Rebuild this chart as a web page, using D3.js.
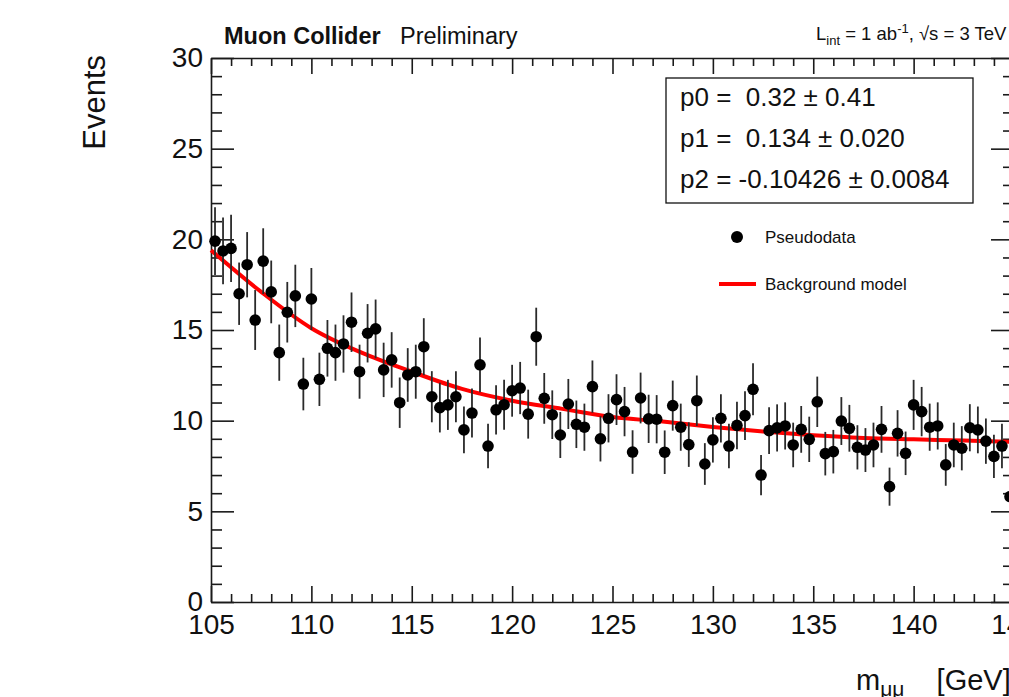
<!DOCTYPE html>
<html><head><meta charset="utf-8">
<script src="https://cdn.jsdelivr.net/npm/d3@7"></script>
<style>
html,body{margin:0;padding:0;background:#fff;overflow:hidden;}
svg{display:block;font-family:"Liberation Sans",Arial,Helvetica,sans-serif;}
text{white-space:pre;}
</style></head><body>
<svg id="c" width="1009" height="697"></svg>
<script>
// ---- data ----
const binLow = 105;
const binWidth = 0.4;
const values = [19.9,19.36,19.5,17.0,18.6,15.55,18.8,17.1,13.75,15.98,
16.88,12.02,16.71,12.28,13.99,13.75,14.23,15.43,12.7,14.82,
15.06,12.8,13.35,10.99,12.52,12.7,14.08,11.32,10.72,10.87,
11.32,9.49,10.42,13.08,8.6,10.6,10.88,11.65,11.8,10.36,
14.63,11.23,10.33,9.21,10.92,9.8,9.64,11.88,9.0,10.13,
11.16,10.5,8.27,11.25,10.1,10.08,8.26,10.83,9.64,8.68,
11.1,7.61,8.94,10.13,8.6,9.74,10.28,11.73,7.0,9.45,
9.6,9.71,8.66,9.52,8.97,11.04,8.18,8.29,9.98,9.58,
8.53,8.38,8.66,9.52,6.36,9.3,8.2,10.87,10.5,9.64,
9.71,7.56,8.66,8.48,9.61,9.49,8.87,8.03,8.6,5.81];
const errors = [1.87,1.84,1.85,1.72,1.80,1.65,1.81,1.73,1.55,1.67,
1.72,1.45,1.71,1.47,1.56,1.55,1.58,1.64,1.49,1.61,
1.62,1.50,1.53,1.39,1.48,1.49,1.57,1.41,1.37,1.38,
1.41,1.29,1.35,1.51,1.23,1.36,1.38,1.43,1.44,1.35,
1.60,1.40,1.34,1.27,1.38,1.31,1.30,1.44,1.25,1.33,
1.40,1.36,1.20,1.40,1.33,1.33,1.20,1.38,1.30,1.23,
1.39,1.15,1.25,1.33,1.23,1.31,1.34,1.43,1.11,1.29,
1.30,1.30,1.23,1.29,1.25,1.39,1.20,1.20,1.32,1.29,
1.22,1.21,1.23,1.29,1.05,1.28,1.20,1.38,1.36,1.30,
1.30,1.15,1.23,1.22,1.30,1.29,1.25,1.19,1.23,1.01];
const fitX = [105,107.5,110,112.5,115,117.5,120,122.5,125,127.5,130,132.5,135,137.5,140,142.5,145];
const fitY = [19.4,17.1,15.1,13.75,12.7,11.75,11.1,10.65,10.2,9.95,9.65,9.4,9.2,9.05,8.97,8.9,8.83];
const xMajor = [105,110,115,120,125,130,135,140,145];
const xLabels = ["105","110","115","120","125","130","135","140","145"];
const yMajor = [0,5,10,15,20,25,30];
const yLabels = ["0","5","10","15","20","25","30"];
const statLines = ["p0 =  0.32 \u00b1 0.41","p1 =  0.134 \u00b1 0.020","p2 = -0.10426 \u00b1 0.0084"];
const legendLabels = ["Pseudodata","Background model"];

// ---- layout ----
const L = 211, R = 1014, T = 58, B = 602;
const svg = d3.select("#c");
svg.append("rect").attr("width",1009).attr("height",697).attr("fill","#fff");
const x = d3.scaleLinear().domain([105,145]).range([L,R]);
const y = d3.scaleLinear().domain([0,30]).range([B,T]);

const xMinor = d3.range(105,146,1).filter(v=>v%5!==0);
const yMinor = d3.range(0,31,1).filter(v=>v%5!==0);

function styleAxis(g){
  g.selectAll("path,line").attr("stroke","#1a1a1a").attr("stroke-width",1.6);
  g.selectAll("text").attr("fill","#111").style("font-family","'Liberation Sans',Arial,sans-serif");
}
// bottom
const gb = svg.append("g").attr("transform",`translate(0,${B})`)
 .call(d3.axisBottom(x).tickValues(xMajor).tickFormat((d,i)=>xLabels[i]).tickSize(-16).tickSizeOuter(0).tickPadding(12));
gb.selectAll("text").attr("font-size",28);
styleAxis(gb);
const gbm = svg.append("g").attr("transform",`translate(0,${B})`)
 .call(d3.axisBottom(x).tickValues(xMinor).tickFormat("").tickSize(-8).tickSizeOuter(0));
styleAxis(gbm); gbm.select(".domain").remove();
// top
const gt = svg.append("g").attr("transform",`translate(0,${T})`)
 .call(d3.axisTop(x).tickValues(xMajor).tickFormat("").tickSize(-16).tickSizeOuter(0));
styleAxis(gt);
const gtm = svg.append("g").attr("transform",`translate(0,${T})`)
 .call(d3.axisTop(x).tickValues(xMinor).tickFormat("").tickSize(-8).tickSizeOuter(0));
styleAxis(gtm); gtm.select(".domain").remove();
// left
const gl = svg.append("g").attr("transform",`translate(${L},0)`)
 .call(d3.axisLeft(y).tickValues(yMajor).tickFormat((d,i)=>yLabels[i]).tickSize(-23).tickSizeOuter(0).tickPadding(8));
gl.selectAll("text").attr("font-size",28);
styleAxis(gl);
const glm = svg.append("g").attr("transform",`translate(${L},0)`)
 .call(d3.axisLeft(y).tickValues(yMinor).tickFormat("").tickSize(-11).tickSizeOuter(0));
styleAxis(glm); glm.select(".domain").remove();
// right
const gr = svg.append("g").attr("transform",`translate(${R},0)`)
 .call(d3.axisRight(y).tickValues(yMajor).tickFormat("").tickSize(-23).tickSizeOuter(0));
styleAxis(gr);
const grm = svg.append("g").attr("transform",`translate(${R},0)`)
 .call(d3.axisRight(y).tickValues(yMinor).tickFormat("").tickSize(-11).tickSizeOuter(0));
styleAxis(grm); grm.select(".domain").remove();

// ---- data points ----
const pts = values.map((v,i)=>({c: binLow + binWidth*(i+0.5), v, e: errors[i]}));
const gd = svg.append("g");
gd.selectAll("line.ey").data(pts).join("line").attr("class","ey")
 .attr("x1",d=>x(d.c)).attr("x2",d=>x(d.c)).attr("y1",d=>y(d.v-d.e)).attr("y2",d=>y(d.v+d.e))
 .attr("stroke","#2a2a2a").attr("stroke-width",1.8);
gd.selectAll("line.ex").data(pts).join("line").attr("class","ex")
 .attr("x1",d=>x(d.c-binWidth/2)).attr("x2",d=>x(d.c+binWidth/2)).attr("y1",d=>y(d.v)).attr("y2",d=>y(d.v))
 .attr("stroke","#2a2a2a").attr("stroke-width",1.8);

// fit curve
const line = d3.line().x((d,i)=>x(fitX[i])).y(d=>y(d)).curve(d3.curveMonotoneX);
svg.append("path").attr("d",line(fitY)).attr("fill","none").attr("stroke","#ff0000").attr("stroke-width",4);

gd.selectAll("circle").data(pts).join("circle")
 .attr("cx",d=>x(d.c)).attr("cy",d=>y(d.v)).attr("r",5.8).attr("fill","#000");
gd.raise();

// ---- titles ----
svg.append("text").attr("x",224).attr("y",44).attr("font-size",23.5).attr("font-weight","bold").attr("fill","#111").text("Muon Collider");
svg.append("text").attr("x",400).attr("y",44).attr("font-size",23.5).attr("fill","#111").text("Preliminary");

const lumi = svg.append("text").attr("x",816).attr("y",40).attr("font-size",18.5).attr("fill","#111");
lumi.append("tspan").text("L");
lumi.append("tspan").attr("font-size",13).attr("dy",5).text("int");
lumi.append("tspan").attr("dy",-5).text(" = 1 ab");
lumi.append("tspan").attr("font-size",13).attr("dy",-7).text("-1");
lumi.append("tspan").attr("dy",7).text(", \u221as = 3 TeV");

svg.append("text").attr("transform","translate(105,55) rotate(-90)").attr("text-anchor","end")
 .attr("font-size",31).attr("fill","#111").text("Events");

const xt = svg.append("text").attr("x",856).attr("y",690).attr("font-size",29).attr("fill","#111");
xt.append("tspan").text("m");
xt.append("tspan").attr("font-size",21).attr("dy",6).text("\u03bc\u03bc");
xt.append("tspan").attr("dy",-6).text("    [GeV]");

// ---- stats box ----
svg.append("rect").attr("x",666).attr("y",78).attr("width",307).attr("height",125)
 .attr("fill","#fff").attr("stroke","#111").attr("stroke-width",1.3);
svg.selectAll("text.stat").data(statLines).join("text").attr("class","stat")
 .attr("x",680).attr("y",(d,i)=>106+i*41).attr("font-size",26).attr("fill","#111").text(d=>d);

// ---- legend ----
svg.append("circle").attr("cx",737).attr("cy",237).attr("r",6).attr("fill","#000");
svg.append("line").attr("x1",719).attr("x2",756).attr("y1",284).attr("y2",284).attr("stroke","#ff0000").attr("stroke-width",4);
svg.selectAll("text.leg").data(legendLabels).join("text").attr("class","leg")
 .attr("x",765).attr("y",(d,i)=>243+i*47).attr("font-size",17).attr("fill","#111").text(d=>d);
</script>
</body></html>
